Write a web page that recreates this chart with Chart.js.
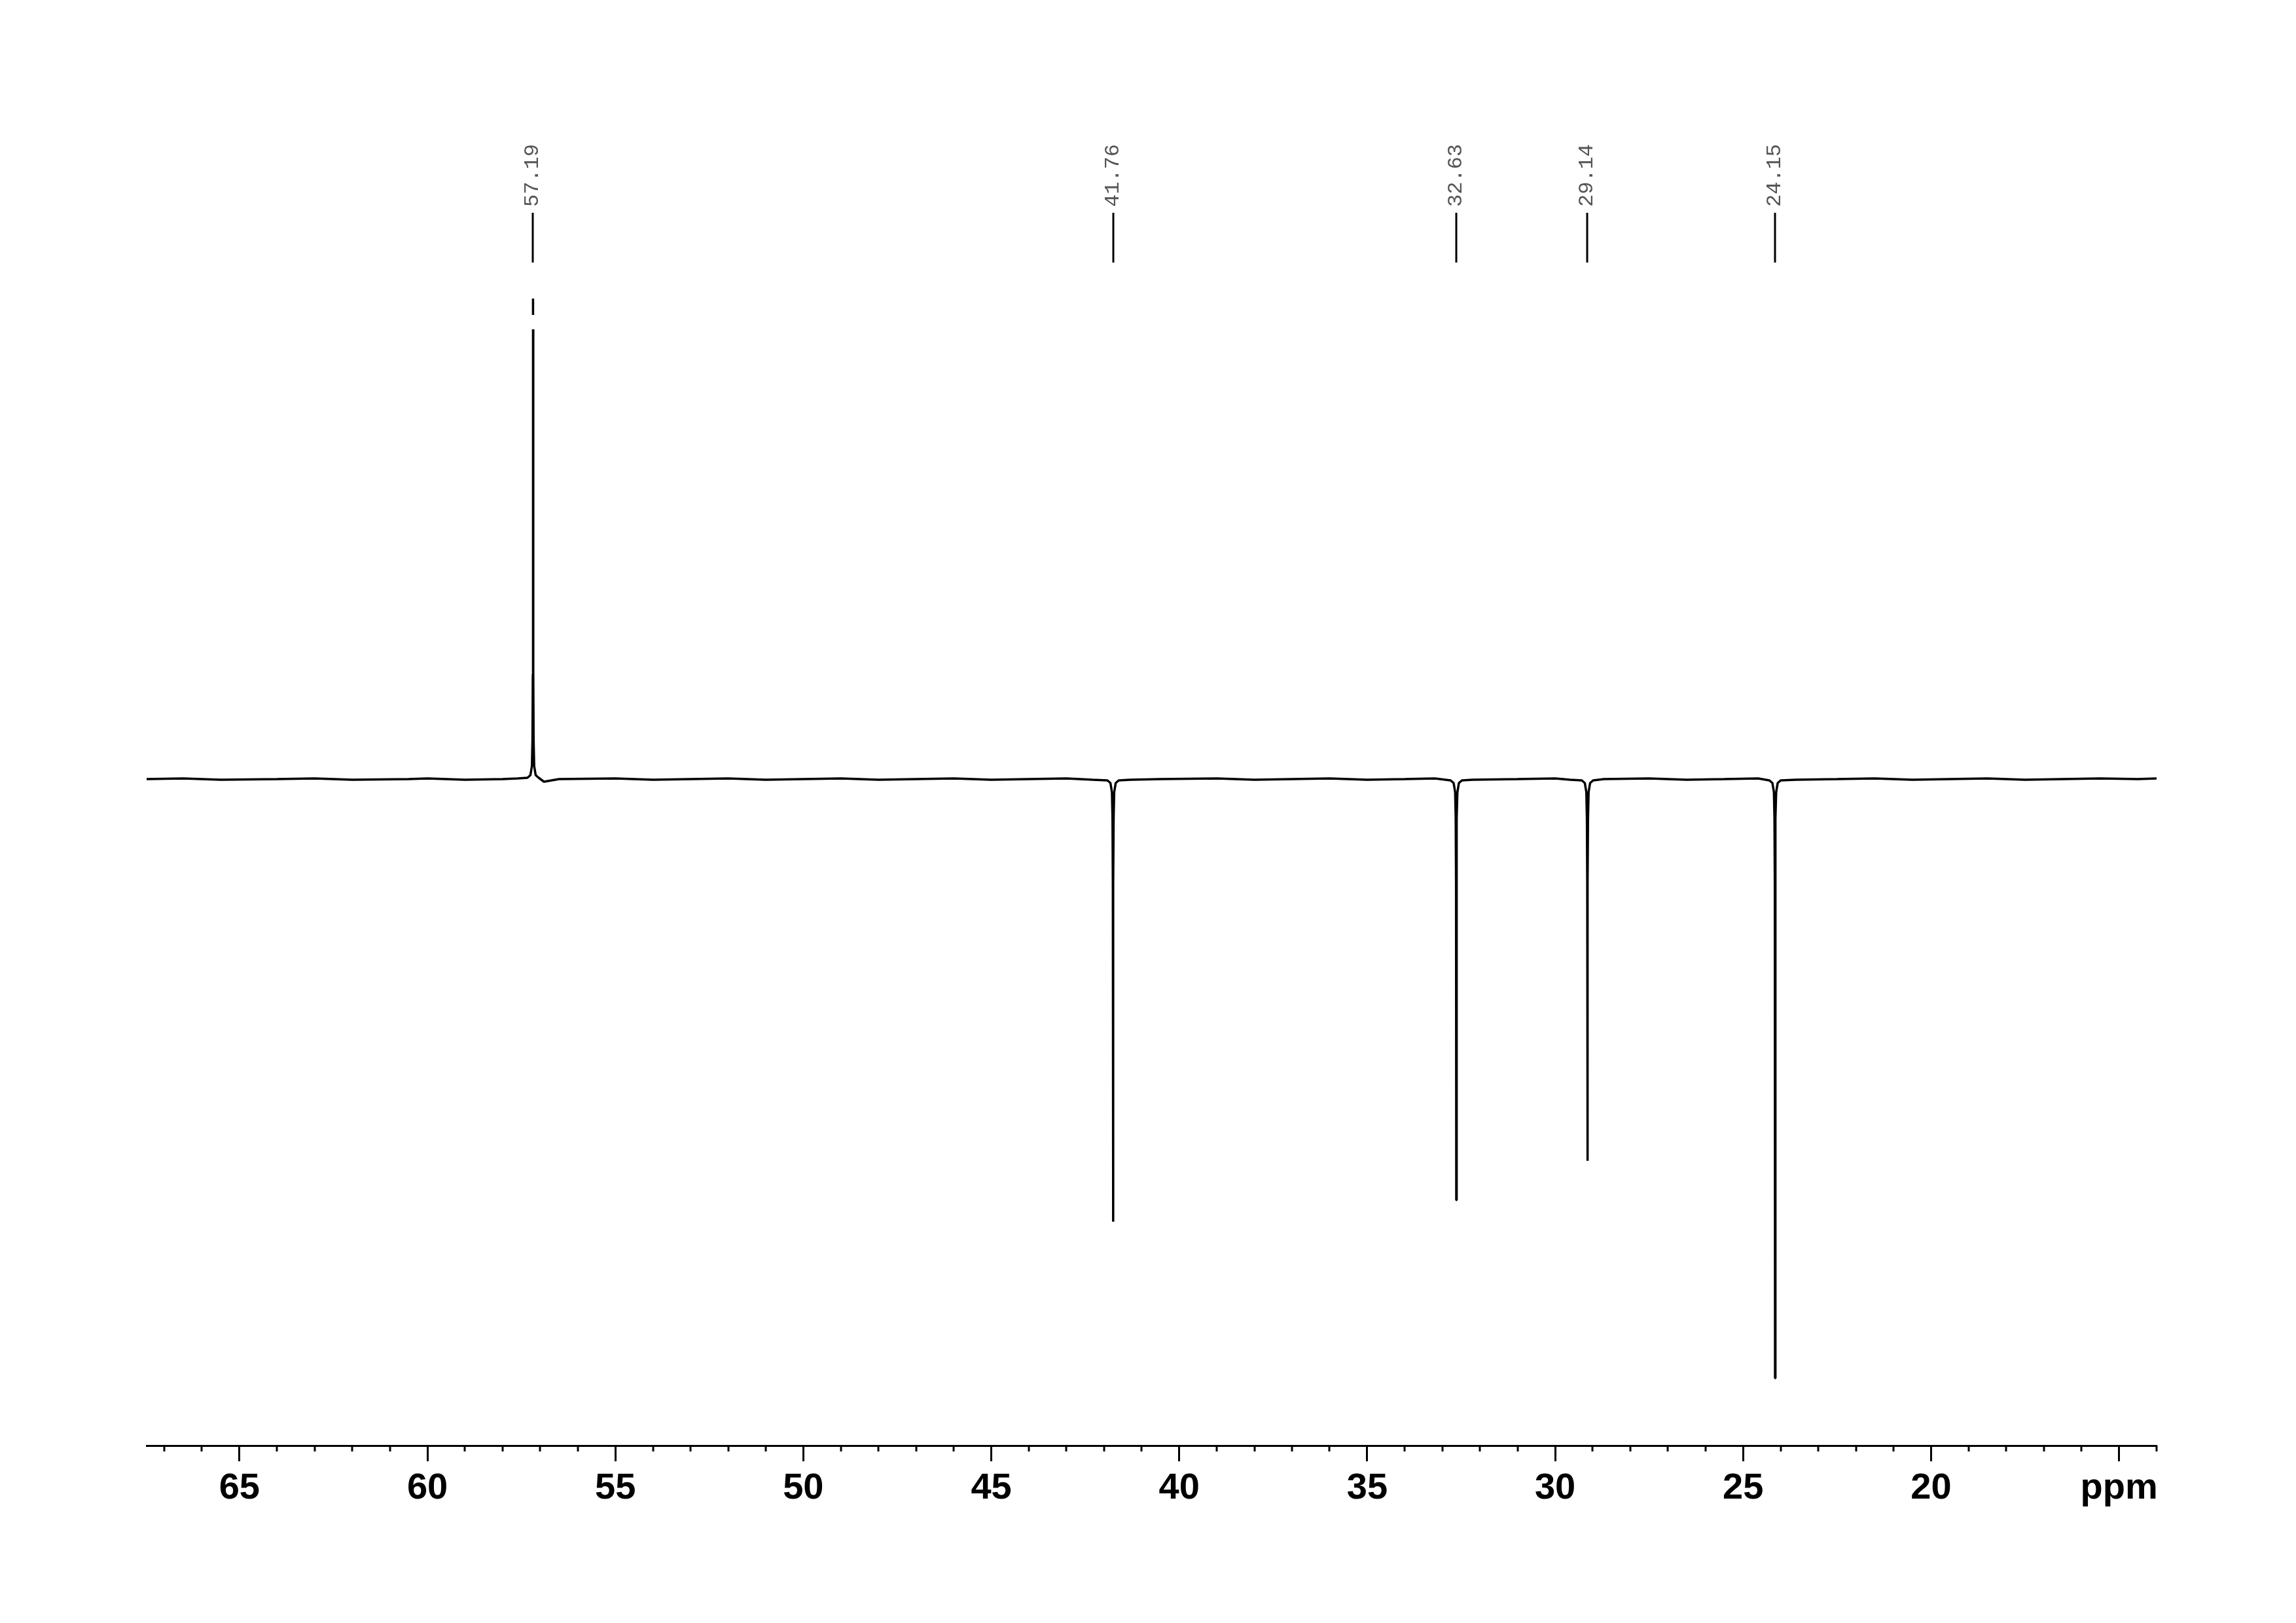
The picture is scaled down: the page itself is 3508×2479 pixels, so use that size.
<!DOCTYPE html>
<html>
<head>
<meta charset="utf-8">
<script src="https://cdn.jsdelivr.net/npm/chart.js@4.4.1/dist/chart.umd.min.js"></script>
<style>
  html, body { margin: 0; padding: 0; background: #fff; }
  #wrap { width: 3508px; height: 2479px; position: relative; }
</style>
</head>
<body>
<div id="wrap"><canvas id="spectrum"></canvas></div>
<script>
// axis range (ppm, drawn high -> low)
const ppmMin = 14.0;
const ppmMax = 67.47;
const xTicks = [65, 60, 55, 50, 45, 40, 35, 30, 25, 20, 15];

// picked peaks
const peakShifts = [57.19, 41.76, 32.63, 29.14, 24.15];
const peakLabels = ["57.19", "41.76", "32.63", "29.14", "24.15"];
const peakHeights = [734, -676, -643, -583, -915];

// the 57.19 peak runs off scale, shown with a broken tip
const clippedPeak = 57.19;
const clipGap = [687, 709];

// line shape near the foot of each peak (ppm offset, depth)
const footOffsets = [0.15, 0.07, 0.03, 0.015, 0.006];
const footDepths = [2, 6, 20, 60, 160];

// baseline
const baselinePpm = [67.47, 66.5, 65.5, 64, 63, 62, 60.5, 60, 59, 58, 57.6, 56.9, 56.5, 55, 54, 53, 52, 51, 50, 49, 48, 47, 46, 45, 44, 43, 42.3, 41.3, 40.5, 39, 38, 37, 36, 35, 34, 33.2, 32.2, 31, 30, 29.6, 28.7, 27.5, 26.5, 25.5, 24.6, 23.6, 22.5, 21.5, 20.5, 19.5, 18.5, 17.5, 16.5, 15.5, 14.5, 14];
const baselineVals = [0, 1, -1, 0, 1, -1, 0, 1, -1, 0, 1, -4, 0, 1, -1, 0, 1, -1, 0, 1, -1, 0, 1, -1, 0, 1, -1, -1, 0, 1, -1, 0, 1, -1, 0, 1, -1, 0, 1, -1, 0, 1, -1, 0, 1, -1, 0, 1, -1, 0, 1, -1, 0, 1, 0, 1];

function peakPoints(s, h) {
  const sign = h < 0 ? -1 : 1;
  const pts = [];
  footOffsets.forEach((o, i) => pts.push({ x: s + o, y: sign * footDepths[i] }));
  if (s === clippedPeak) {
    pts.push({ x: s, y: clipGap[0] }, { x: s, y: null }, { x: s, y: clipGap[1] },
      { x: s, y: h },
      { x: s, y: clipGap[1] }, { x: s, y: null }, { x: s, y: clipGap[0] });
  } else {
    pts.push({ x: s, y: h });
  }
  for (let i = footOffsets.length - 1; i >= 0; i--) {
    pts.push({ x: s - footOffsets[i], y: sign * footDepths[i] });
  }
  return pts;
}

const chunks = baselinePpm.map((p, i) => ({ key: p, pts: [{ x: p, y: baselineVals[i] }] }));
peakShifts.forEach((s, i) => chunks.push({ key: s, pts: peakPoints(s, peakHeights[i]) }));
chunks.sort((a, b) => b.key - a.key);
const spectrum = chunks.flatMap((c) => c.pts);

const annotate = {
  id: "annotate",
  afterDraw(chart) {
    const ctx = chart.ctx;
    const xs = chart.scales.x;
    const yb = chart.chartArea.bottom;
    ctx.save();
    ctx.strokeStyle = "#000";
    ctx.lineWidth = 3;
    // minor ticks every 1 ppm
    for (let v = Math.ceil(ppmMin); v <= Math.floor(ppmMax); v++) {
      if (v % 5 === 0) continue;
      const px = Math.round(xs.getPixelForValue(v));
      ctx.beginPath();
      ctx.moveTo(px, yb);
      ctx.lineTo(px, yb + 9);
      ctx.stroke();
    }
    // peak labels on top
    ctx.fillStyle = "#555";
    ctx.font = '32px "Liberation Mono"';
    peakShifts.forEach((s, i) => {
      const px = Math.round(xs.getPixelForValue(s));
      ctx.beginPath();
      ctx.moveTo(px, 325);
      ctx.lineTo(px, 401);
      ctx.stroke();
      ctx.save();
      ctx.translate(px, 316);
      ctx.rotate(-Math.PI / 2);
      ctx.textAlign = "left";
      ctx.textBaseline = "middle";
      ctx.fillText(peakLabels[i], 0, 0);
      ctx.restore();
    });
    ctx.restore();
  },
};

new Chart(document.getElementById("spectrum"), {
  type: "line",
  data: {
    datasets: [
      {
        data: spectrum,
        borderColor: "#000",
        borderWidth: 3.5,
        borderJoinStyle: "bevel",
        pointRadius: 0,
        fill: false,
        tension: 0,
        spanGaps: false,
      },
    ],
  },
  options: {
    responsive: true,
    maintainAspectRatio: false,
    animation: false,
    layout: { padding: { left: 224, right: 213, top: 150, bottom: 121 } },
    plugins: { legend: { display: false }, tooltip: { enabled: false } },
    scales: {
      x: {
        type: "linear",
        reverse: true,
        min: ppmMin,
        max: ppmMax,
        afterBuildTicks: (s) => {
          s.ticks = xTicks.map((v) => ({ value: v }));
        },
        afterFit: (s) => {
          s.height = 150;
        },
        border: { display: true, color: "#000", width: 3 },
        grid: {
          display: true,
          drawOnChartArea: false,
          drawTicks: true,
          tickLength: 24,
          tickWidth: 3,
          tickColor: "#000",
        },
        ticks: {
          color: "#000",
          padding: 8,
          maxRotation: 0,
          autoSkip: false,
          font: { family: "Liberation Sans", size: 56, weight: "bold" },
          callback: (v) => (v === 15 ? "ppm" : String(v)),
        },
      },
      y: {
        display: false,
        min: -1018,
        max: 1040,
      },
    },
  },
  plugins: [annotate],
});
</script>
</body>
</html>
